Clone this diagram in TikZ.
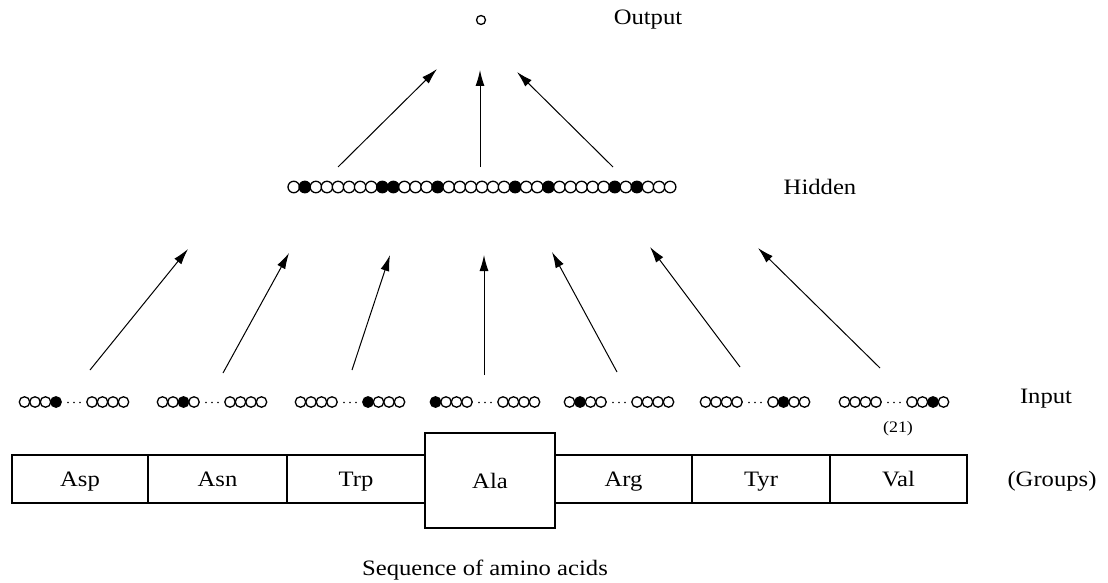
\documentclass[tikz,border=0pt]{standalone}
\usepackage{fontspec}
\setmainfont{Liberation Serif}[FakeStretch=1.12]
\usetikzlibrary{arrows.meta}
\begin{document}
\begin{tikzpicture}[x=1pt,y=-1pt,
  font=\fontsize{22}{26}\selectfont,
  uo/.style={circle,draw,line width=1.3pt,inner sep=0pt,minimum size=10.5pt,fill=white},
  uf/.style={uo,fill=black},
  ho/.style={uo,minimum size=11.5pt},
  hf/.style={ho,fill=black},
  grp/.style={draw,line width=1.2pt,minimum height=48pt,inner sep=0pt},
  lbl/.style={anchor=base,inner sep=0pt},
  conn/.style={line width=1pt,-{Latex[length=16pt,width=9pt]}}]
\useasboundingbox (0,0) rectangle (1108,583);

% output unit
\node[uo,minimum size=9pt] (out) at (481,20) {};
\node[lbl] (outlbl) at (648,25) {Output};

% hidden layer
\foreach [count=\i from 0] \s in {o,f,o,o,o,o,o,o,f,f,o,o,o,f,o,o,o,o,o,o,f,o,o,f,o,o,o,o,o,f,o,f,o,o,o}
  \node[h\s] (h\i) at ({293.75+\i*11.07},187) {};
\node[lbl] (hidlbl) at (820,194) {Hidden};

% input groups: four units, an ellipsis, four units; one unit set per group
\foreach \g/\cx/\k in {1/74/3,2/212/2,3/350/4,4/485/0,5/619/1,6/755/5,7/894/6}{
  \foreach [count=\j from 0] \dx in {-49.5,-39,-28.5,-18,18,28.5,39,49.5}{
    \ifnum\j=\k\def\st{uf}\else\def\st{uo}\fi
    \node[\st] (i\g-\j) at ({\cx+\dx},402) {};
  }
  \foreach \dx in {-6,0,6}
    \fill ({\cx+\dx},402.5) circle[radius=0.9pt];
}
\node[lbl] (inlbl) at (1046,403) {Input};
\node[lbl,font=\fontsize{16}{18}\selectfont] (n21) at (898,432) {(21)};

% sequence of residue groups
\node[grp,minimum width=136pt] (b1) at (80,479) {};
\node[grp,minimum width=139pt] (b2) at (217.5,479) {};
\node[grp,minimum width=138pt] (b3) at (356,479) {};
\node[grp,minimum width=137pt] (b5) at (623.5,479) {};
\node[grp,minimum width=138pt] (b6) at (761,479) {};
\node[grp,minimum width=137pt] (b7) at (898.5,479) {};
\node[grp,minimum width=130pt,minimum height=95pt,fill=white] (b4) at (490,480.5) {};
\foreach \b/\t in {1/Asp,2/Asn,3/Trp,4/Ala,5/Arg,6/Tyr,7/Val}
  \node[lbl] (t\b) at ([yshift=-7.5pt]b\b.center) {\t};
\node[lbl] (grplbl) at (1052,486) {(Groups)};
\node[lbl] (seqlbl) at (485,575) {Sequence of amino acids};

% connector ends
\coordinate (s1) at (90,370);   \coordinate (e1) at (188,249);
\coordinate (s2) at (223,373);  \coordinate (e2) at (289,253);
\coordinate (s3) at (352,370);  \coordinate (e3) at (390,255);
\coordinate (s4) at (484,375);  \coordinate (e4) at (484,255);
\coordinate (s5) at (617,372);  \coordinate (e5) at (552,252);
\coordinate (s6) at (740,367);  \coordinate (e6) at (650,247);
\coordinate (s7) at (880,368);  \coordinate (e7) at (758,248);
\coordinate (u1) at (338,167);  \coordinate (v1) at (437,69);
\coordinate (u2) at (480,167);  \coordinate (v2) at (480,70);
\coordinate (u3) at (613,167);  \coordinate (v3) at (517,72);

\foreach \n in {1,...,7} \draw[conn] (s\n) -- (e\n);
\foreach \n in {1,2,3} \draw[conn] (u\n) -- (v\n);
\end{tikzpicture}
\end{document}
